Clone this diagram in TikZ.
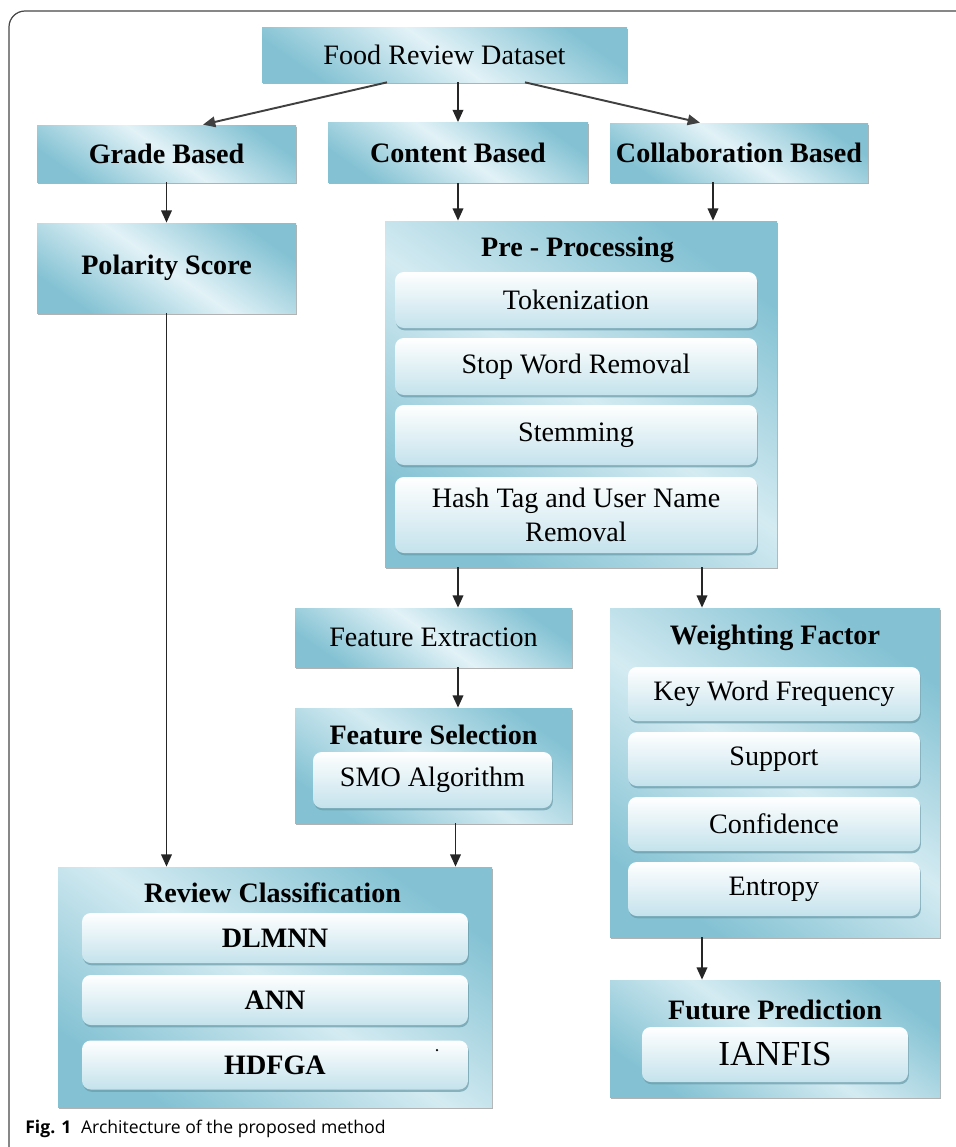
\documentclass[tikz,border=0pt]{standalone}
\usepackage{fontspec}
\setmainfont{Liberation Serif}
\newfontfamily\capfont{Open Sans}
\usetikzlibrary{arrows.meta,shadows,calc}

\definecolor{boxdark}{RGB}{132,194,211}
\definecolor{boxlight}{RGB}{226,242,247}
\definecolor{subblue}{RGB}{196,226,236}
\definecolor{framegray}{RGB}{70,70,70}

\tikzset{
  block/.style={shading=axis, top color=boxdark, bottom color=boxdark, middle color=boxlight,
    shading angle=-35, inner sep=0pt, font=\fontsize{16}{19}\selectfont,
    drop shadow={shadow xshift=0.6pt, shadow yshift=-1pt, fill=black!55, opacity=0.55}},
  holder/.style={block, middle color=boxlight!85!boxdark},
  subbox/.style={rounded corners=5pt, top color=white, bottom color=subblue, inner sep=0pt,
    align=center, font=\fontsize{16}{19}\selectfont,
    drop shadow={shadow xshift=0.5pt, shadow yshift=-1.3pt, fill=boxdark!80!black, opacity=0.7}},
  heading/.style={font=\fontsize{16}{19}\selectfont\bfseries, inner sep=0pt},
  flow/.style={-{Triangle[length=7pt,width=6pt]}, line width=1.1pt, draw=black!85}
}

\begin{document}
\begin{tikzpicture}[line join=round]
  \useasboundingbox (0,0) rectangle (19.12,-22.94);

  % outer frame
  \draw[framegray, line width=0.7pt, rounded corners=0.32cm] (0.18,-22.94) -- (0.18,-0.22) -- (19.12,-0.22);

  % top row
  \node[block, minimum width=7.30cm, minimum height=1.10cm] (frd) at (8.89,-1.09) {Food Review Dataset};
  \node[block, minimum width=5.18cm, minimum height=1.14cm, font=\fontsize{16}{19}\selectfont\bfseries] (grade) at (3.33,-3.07) {Grade Based};
  \node[block, minimum width=5.20cm, minimum height=1.20cm, font=\fontsize{16}{19}\selectfont\bfseries] (content) at (9.16,-3.05) {Content Based};
  \node[block, minimum width=5.16cm, minimum height=1.18cm, font=\fontsize{16}{19}\selectfont\bfseries] (collab) at (14.78,-3.05) {Collaboration Based};

  % left branch
  \node[block, minimum width=5.18cm, minimum height=1.80cm, font=\fontsize{16}{19}\selectfont\bfseries] (polarity) at (3.33,-5.36) {Polarity Score};

  % pre-processing
  \node[holder, minimum width=7.84cm, minimum height=6.92cm] (pre) at (11.62,-7.88) {};
  \node[heading] (pretitle) at (11.55,-5.00) {Pre - Processing};
  \node[subbox, minimum width=7.24cm, minimum height=1.12cm] (tok) at (11.52,-6.00) {Tokenization};
  \node[subbox, minimum width=7.24cm, minimum height=1.14cm] (stop) at (11.52,-7.33) {Stop Word Removal};
  \node[subbox, minimum width=7.24cm, minimum height=1.20cm] (stem) at (11.52,-8.70) {Stemming};
  \node[subbox, minimum width=7.24cm, minimum height=1.52cm] (hash) at (11.52,-10.30) {Hash Tag and User Name\\Removal};

  % features
  \node[block, minimum width=5.54cm, minimum height=1.18cm] (fe) at (8.67,-12.75) {Feature Extraction};
  \node[holder, minimum width=5.54cm, minimum height=2.30cm] (fs) at (8.67,-15.31) {};
  \node[heading] (fstitle) at (8.67,-14.70) {Feature Selection};
  \node[subbox, minimum width=4.78cm, minimum height=1.12cm] (smo) at (8.65,-15.60) {SMO Algorithm};

  % weighting factor
  \node[holder, minimum width=6.60cm, minimum height=6.58cm] (wf) at (15.50,-15.45) {};
  \node[heading] (wftitle) at (15.50,-12.76) {Weighting Factor};
  \node[subbox, minimum width=5.84cm, minimum height=1.08cm] (kwf) at (15.48,-13.88) {Key Word Frequency};
  \node[subbox, minimum width=5.84cm, minimum height=1.08cm] (sup) at (15.48,-15.18) {Support};
  \node[subbox, minimum width=5.84cm, minimum height=1.08cm] (conf) at (15.48,-16.48) {Confidence};
  \node[subbox, minimum width=5.84cm, minimum height=1.08cm] (ent) at (15.48,-17.78) {Entropy};

  % future prediction
  \node[holder, minimum width=6.60cm, minimum height=2.34cm] (fp) at (15.50,-20.77) {};
  \node[heading] (fptitle) at (15.50,-20.20) {Future Prediction};
  \node[subbox, minimum width=5.32cm, minimum height=1.10cm, font=\fontsize{20}{24}\selectfont] (ianfis) at (15.50,-21.09) {IANFIS};

  % review classification
  \node[holder, minimum width=8.68cm, minimum height=4.80cm] (rc) at (5.50,-19.74) {};
  \node[heading] (rctitle) at (5.45,-17.86) {Review Classification};
  \node[subbox, minimum width=7.72cm, minimum height=1.00cm, font=\fontsize{16}{19}\selectfont\bfseries] (dlmnn) at (5.50,-18.76) {DLMNN};
  \node[subbox, minimum width=7.72cm, minimum height=1.00cm, font=\fontsize{16}{19}\selectfont\bfseries] (ann) at (5.50,-20.00) {ANN};
  \node[subbox, minimum width=7.72cm, minimum height=0.98cm, font=\fontsize{16}{19}\selectfont\bfseries] (hdfga) at (5.50,-21.30) {HDFGA};
  \fill (8.74,-21.0) circle (0.025);

  % connectors
  \coordinate (c1) at ([xshift=-0.52cm]collab.south);
  \coordinate (c2) at ([xshift=-1.46cm]wf.north);
  \draw[flow, draw=black!75] ([xshift=-1.15cm]frd.south) -- ([xshift=0.73cm]grade.north);
  \draw[flow] (content.north |- frd.south) -- (content.north);
  \draw[flow, draw=black!75] ([xshift=1.61cm]frd.south) -- ([xshift=-0.78cm]collab.north);
  \draw[flow] (grade.south) -- (polarity.north);
  \draw[flow] (content.south) -- (content.south |- pre.north);
  \draw[flow] (c1) -- (c1 |- pre.north);
  \draw[flow] (content.south |- pre.south) -- (content.south |- fe.north);
  \draw[flow] (c2 |- pre.south) -- (c2);
  \draw[flow] (content.south |- fe.south) -- (content.south |- fs.north);
  \draw[flow] ([xshift=-0.05cm]content.south |- fs.south) -- ([xshift=-0.05cm]content.south |- rc.north);
  \draw[flow] (polarity.south) -- (polarity.south |- rc.north);
  \draw[flow] (c2 |- wf.south) -- (c2 |- fp.north);

  % caption
  \node[anchor=west, inner sep=0pt, font=\capfont\fontsize{10}{12}\selectfont] (cap) at (0.50,-22.58)
    {\textbf{Fig. 1}\hspace{0.55em}Architecture of the proposed method};
\end{tikzpicture}
\end{document}
